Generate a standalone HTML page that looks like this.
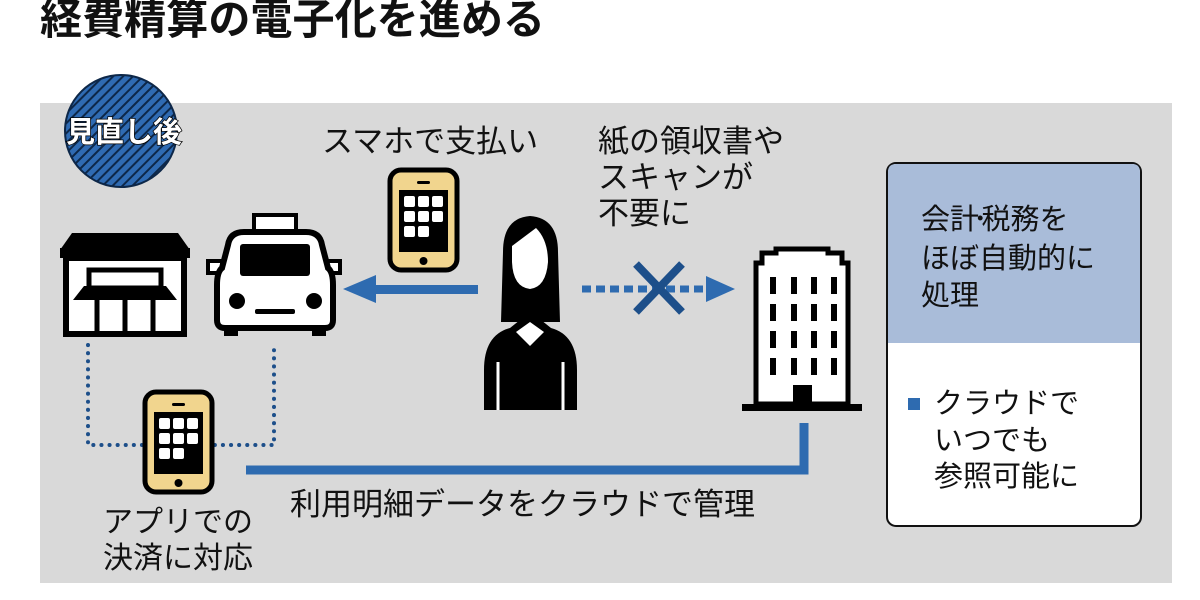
<!DOCTYPE html>
<html><head><meta charset="utf-8"><style>
html,body{margin:0;padding:0;background:#fff;}
svg{display:block;}
text{font-family:"Liberation Sans","Noto Sans CJK JP",sans-serif;}
</style></head><body>
<svg width="1200" height="600" viewBox="0 0 1200 600" xmlns="http://www.w3.org/2000/svg">
<defs>
<pattern id="hatch" width="7" height="7" patternUnits="userSpaceOnUse" patternTransform="rotate(45)">
<rect width="7" height="7" fill="#2f6bb3"/><rect width="2" height="7" fill="#0d2748"/>
</pattern>
<g id="phone">
<rect x="2" y="2" width="67" height="100" rx="11" fill="#f1d58e" stroke="#000" stroke-width="5"/>
<rect x="11" y="22" width="49" height="62" fill="#000"/>
<rect x="29" y="13" width="13" height="3" rx="1.5" fill="#000"/>
<circle cx="35.5" cy="93" r="4" fill="#000"/>
<g fill="#fff">
<rect x="16" y="28" width="11" height="11" rx="2"/><rect x="30" y="28" width="11" height="11" rx="2"/><rect x="44" y="28" width="11" height="11" rx="2"/>
<rect x="16" y="43" width="11" height="11" rx="2"/><rect x="30" y="43" width="11" height="11" rx="2"/><rect x="44" y="43" width="11" height="11" rx="2"/>
<rect x="16" y="58" width="11" height="11" rx="2"/><rect x="30" y="58" width="11" height="11" rx="2"/>
</g>
</g>
</defs>
<text x="40" y="34" font-size="42" font-weight="bold" fill="#111" textLength="505" lengthAdjust="spacingAndGlyphs">経費精算の電子化を進める</text>
<rect x="40" y="103" width="1132" height="480" fill="#d9d9d9"/>
<circle cx="121" cy="131" r="56" fill="url(#hatch)" stroke="#0d2748" stroke-width="2"/>
<text x="124" y="142" font-size="29" font-weight="bold" fill="#fff" stroke="#000" stroke-width="1.5" paint-order="stroke" text-anchor="middle">見直し後</text>

<!-- store -->
<polygon points="60,250 72,233 178,233 190,250" fill="#000"/>
<rect x="60" y="248" width="130" height="10" fill="#000"/>
<rect x="66" y="258" width="118" height="76" fill="#fff" stroke="#000" stroke-width="6"/>
<rect x="89" y="270" width="72" height="18" fill="#fff" stroke="#000" stroke-width="5"/>
<polygon points="73,300 84,286 166,286 177,300" fill="#000"/>
<line x1="97" y1="300" x2="97" y2="334" stroke="#000" stroke-width="5"/>
<line x1="125" y1="300" x2="125" y2="334" stroke="#000" stroke-width="5"/>
<line x1="153" y1="300" x2="153" y2="334" stroke="#000" stroke-width="5"/>

<!-- taxi -->
<rect x="254" y="215" width="42" height="16" fill="#fff" stroke="#000" stroke-width="4"/>
<rect x="208" y="261" width="14" height="12" fill="#fff" stroke="#000" stroke-width="4"/>
<rect x="326" y="261" width="14" height="12" fill="#fff" stroke="#000" stroke-width="4"/>
<path d="M228,245 Q230,232 244,232 L306,232 Q320,232 322,245 L328,268 Q333,272 333,285 L333,320 Q333,328 325,328 L225,328 Q217,328 217,320 L217,285 Q217,272 222,268 Z" fill="#fff" stroke="#000" stroke-width="6"/>
<rect x="240" y="244" width="70" height="32" rx="3" fill="#000"/>
<circle cx="237" cy="301" r="8" fill="#000"/><circle cx="314" cy="301" r="8" fill="#000"/>
<rect x="255" y="309" width="40" height="5" rx="2" fill="#000"/>
<rect x="224" y="328" width="14" height="8" fill="#000"/><rect x="312" y="328" width="14" height="8" fill="#000"/>

<path d="M88,345 L88,445 L274,445 L274,345" fill="none" stroke="#1d4f8a" stroke-width="4" stroke-dasharray="0.1 8" stroke-linecap="round"/>

<use href="#phone" x="388" y="168"/>
<use href="#phone" x="143" y="390"/>

<text x="322" y="152" font-size="31" fill="#111">スマホで支払い</text>
<rect x="372" y="285" width="106" height="9" fill="#2e6bb0"/>
<polygon points="343,289 376,275 376,303" fill="#2e6bb0"/>

<!-- woman -->
<path d="M503,252 Q503,218 530,216 Q558,218 558,252 L560,322 L501,322 Z" fill="#000"/>
<path d="M512,246 L536,228 Q548,240 548,262 Q546,287 530,289 Q513,287 512,262 Z" fill="#fff"/>
<path d="M484,370 Q484,335 510,328 L520,320 L541,320 L551,328 Q577,335 577,370 L577,410 L484,410 Z" fill="#000"/>
<polygon points="516,332 530,322 544,332 530,346" fill="#fff"/>
<line x1="498" y1="362" x2="498" y2="410" stroke="#fff" stroke-width="3"/>
<line x1="563" y1="362" x2="563" y2="410" stroke="#fff" stroke-width="3"/>

<line x1="582" y1="289" x2="716" y2="289" stroke="#2e6bb0" stroke-width="7" stroke-dasharray="9 5"/>
<polygon points="735,289 706,276 706,302" fill="#2e6bb0"/>
<line x1="636" y1="264" x2="682" y2="312" stroke="#1d4f8a" stroke-width="8"/>
<line x1="682" y1="264" x2="636" y2="312" stroke="#1d4f8a" stroke-width="8"/>
<text x="598" y="152" font-size="31" fill="#111">紙の領収書や</text>
<text x="598" y="188" font-size="31" fill="#111">スキャンが</text>
<text x="598" y="224" font-size="31" fill="#111">不要に</text>

<!-- building -->
<path d="M756,404 L756,263 L762,263 L762,253 L776,253 L776,249 L828,249 L828,253 L842,253 L842,263 L848,263 L848,404 Z" fill="#fff" stroke="#000" stroke-width="5"/>
<g fill="#000">
<rect x="770" y="277" width="6" height="17"/><rect x="791" y="277" width="6" height="17"/><rect x="811" y="277" width="6" height="17"/><rect x="831" y="277" width="6" height="17"/>
<rect x="770" y="304" width="6" height="17"/><rect x="791" y="304" width="6" height="17"/><rect x="811" y="304" width="6" height="17"/><rect x="831" y="304" width="6" height="17"/>
<rect x="770" y="331" width="6" height="17"/><rect x="791" y="331" width="6" height="17"/><rect x="811" y="331" width="6" height="17"/><rect x="831" y="331" width="6" height="17"/>
<rect x="770" y="358" width="6" height="17"/><rect x="791" y="358" width="6" height="17"/><rect x="811" y="358" width="6" height="17"/><rect x="831" y="358" width="6" height="17"/>
<rect x="793" y="385" width="19" height="20"/>
<rect x="742" y="404" width="120" height="7"/>
</g>

<path d="M246,470 L804,470 L804,423" fill="none" stroke="#2e6bb0" stroke-width="9"/>
<text x="290" y="515" font-size="31" fill="#111">利用明細データをクラウドで管理</text>
<text x="103" y="532" font-size="30" fill="#111">アプリでの</text>
<text x="103" y="568" font-size="30" fill="#111">決済に対応</text>

<rect x="887" y="163" width="254" height="363" rx="9" fill="#fff" stroke="#111" stroke-width="2"/>
<path d="M888,343 L888,172 Q888,164 896,164 L1132,164 Q1140,164 1140,172 L1140,343 Z" fill="#a9bcd9"/>
<text x="921" y="229" font-size="29" fill="#111">会計<tspan dx="-6">･</tspan><tspan dx="-6">税務を</tspan></text>
<text x="921" y="268" font-size="29" fill="#111">ほぼ自動的に</text>
<text x="921" y="305" font-size="29" fill="#111">処理</text>
<rect x="908" y="398" width="12" height="12" fill="#2e6bb0"/>
<text x="934" y="413" font-size="29" fill="#111">クラウドで</text>
<text x="934" y="450" font-size="29" fill="#111">いつでも</text>
<text x="934" y="486" font-size="29" fill="#111">参照可能に</text>
</svg>
</body></html>
